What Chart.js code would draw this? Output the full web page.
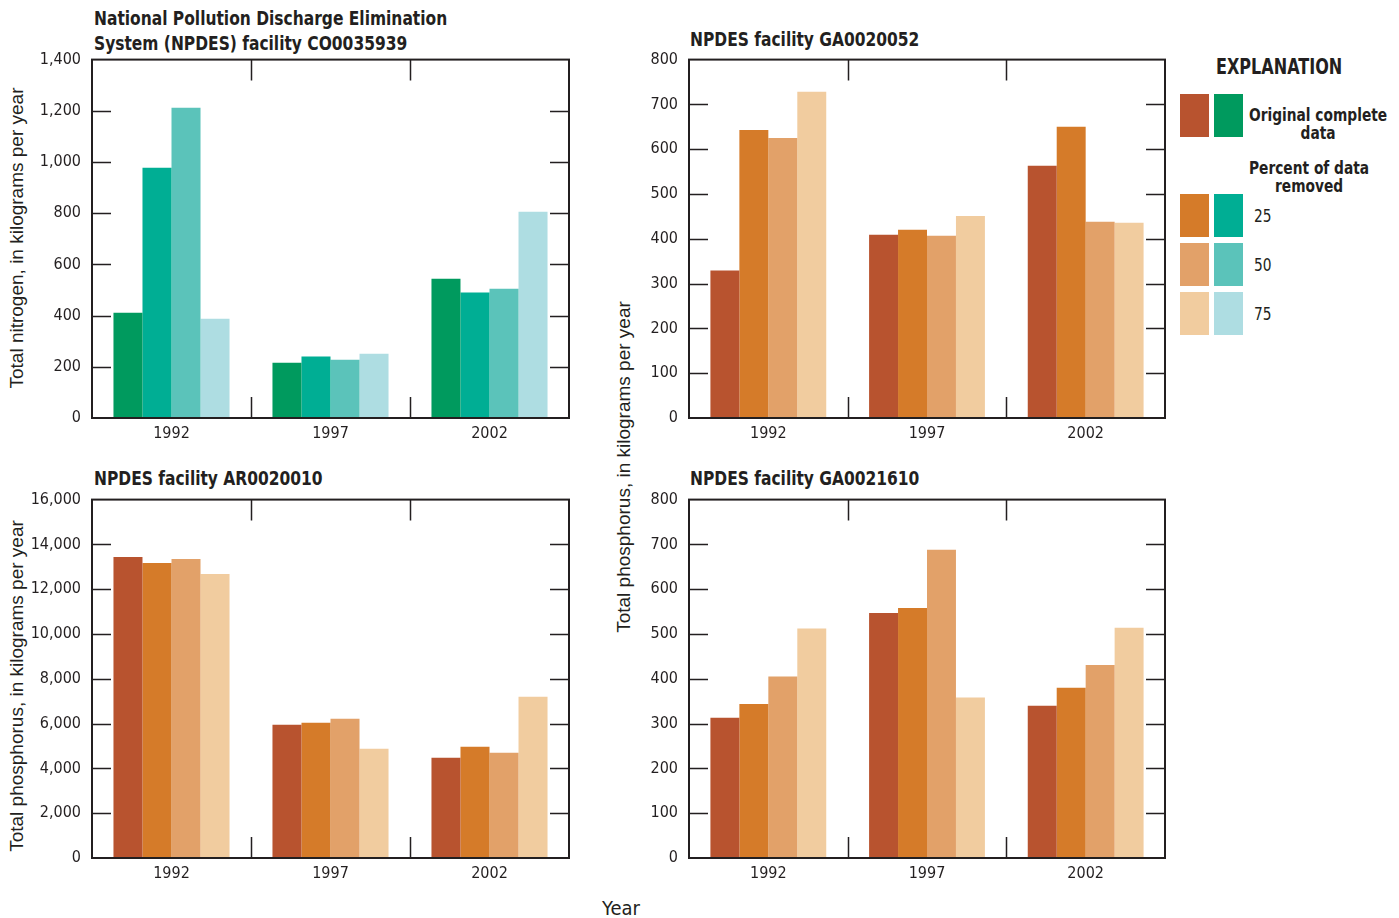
<!DOCTYPE html>
<html>
<head>
<meta charset="utf-8">
<script src="https://cdn.jsdelivr.net/npm/chart.js@4/dist/chart.umd.min.js"></script>
<style>
  body { margin: 0; background: #fff; width: 1399px; height: 918px; position: relative; overflow: hidden;
         font-family: "DejaVu Sans Condensed", "Liberation Sans", sans-serif; color: #231f20; }
  canvas { position: absolute; }
  .title { position: absolute; font-weight: bold; font-size: 20px; line-height: 25px; white-space: nowrap;
           transform: scaleX(0.86); transform-origin: left top; }
  .ytitle { position: absolute; width: 420px; text-align: center; font-family: "Liberation Sans", Arial, sans-serif;
            font-size: 19px; line-height: 20px; transform: rotate(-90deg); white-space: nowrap; }
  .sw { position: absolute; width: 29px; height: 43px; }
  .lg { position: absolute; font-weight: bold; font-size: 18px; line-height: 18px; white-space: nowrap;
        transform: scaleX(0.85); transform-origin: left top; }
</style>
</head>
<body>
<div class="title" style="left:94px; top:6px;">National Pollution Discharge Elimination<br>System (NPDES) facility CO0035939</div>
<div class="title" style="left:690px; top:27px;">NPDES facility GA0020052</div>
<div class="title" style="left:94px; top:466px;">NPDES facility AR0020010</div>
<div class="title" style="left:690px; top:466px;">NPDES facility GA0021610</div>

<div class="ytitle" style="left:-193px; top:228px;">Total nitrogen, in kilograms per year</div>
<div class="ytitle" style="left:-193px; top:676px;">Total phosphorus, in kilograms per year</div>
<div class="ytitle" style="left:414px; top:457px;">Total phosphorus, in kilograms per year</div>
<div style="position:absolute; left:571px; width:100px; text-align:center; top:896px; font-size:20px;">Year</div>

<canvas id="c1" width="577" height="401" style="left:2px; top:47px;"></canvas>
<canvas id="c2" width="556" height="401" style="left:619px; top:47px;"></canvas>
<canvas id="c3" width="577" height="401" style="left:2px; top:487px;"></canvas>
<canvas id="c4" width="556" height="401" style="left:619px; top:487px;"></canvas>

<div id="legend"></div>

<script>
// categories and series
const years = ['1992', '1997', '2002'];
const seriesNames = ['Original complete data', '25 percent removed', '50 percent removed', '75 percent removed'];

// NPDES CO0035939, total nitrogen (kg/yr)
const coOriginal = [411, 216, 544];
const co25 = [978, 240, 490];
const co50 = [1212, 228, 505];
const co75 = [388, 251, 806];

// NPDES GA0020052, total phosphorus
const ga52Original = [329, 409, 563];
const ga52_25 = [643, 420, 650];
const ga52_50 = [625, 407, 438];
const ga52_75 = [728, 451, 436];

// NPDES AR0020010, total phosphorus
const arOriginal = [13440, 5950, 4480];
const ar25 = [13170, 6040, 4970];
const ar50 = [13350, 6220, 4700];
const ar75 = [12680, 4880, 7200];

// NPDES GA0021610, total phosphorus
const ga1610Original = [313, 547, 340];
const ga1610_25 = [344, 558, 380];
const ga1610_50 = [405, 688, 431];
const ga1610_75 = [512, 358, 514];

const greens = ['#009a5e', '#00ae94', '#5bc3ba', '#aedde2'];
const browns = ['#b8532f', '#d57b29', '#e2a169', '#f1cc9f'];
const ink = '#231f20';
const tickFont = { family: "'DejaVu Sans Condensed', sans-serif", size: 16 };

// box around the plot with inward ticks
const framePlugin = {
    id: 'frame',
    afterDatasetsDraw(chart) {
        const { ctx, chartArea: a, scales: { x, y } } = chart;
        ctx.save();
        ctx.strokeStyle = ink;
        ctx.lineWidth = 1.5;
        y.ticks.forEach(t => {
            if (t.value <= y.min || t.value >= y.max) return;
            const py = Math.round(y.getPixelForValue(t.value)) + 0.5;
            ctx.beginPath();
            ctx.moveTo(a.left, py); ctx.lineTo(a.left + 19, py);
            ctx.moveTo(a.right - 19, py); ctx.lineTo(a.right, py);
            ctx.stroke();
        });
        for (let i = 1; i < x.ticks.length; i++) {
            const px = Math.round((x.getPixelForValue(i - 1) + x.getPixelForValue(i)) / 2) + 0.5;
            ctx.beginPath();
            ctx.moveTo(px, a.top); ctx.lineTo(px, a.top + 21);
            ctx.moveTo(px, a.bottom - 21); ctx.lineTo(px, a.bottom);
            ctx.stroke();
        }
        ctx.lineWidth = 2;
        ctx.strokeRect(a.left, a.top, a.right - a.left, a.bottom - a.top);
        ctx.restore();
    }
};

function makeChart(id, series, colors, max, step, axisWidth) {
    new Chart(document.getElementById(id), {
        type: 'bar',
        data: {
            labels: years,
            datasets: series.map((d, i) => ({
                label: seriesNames[i],
                data: d,
                backgroundColor: colors[i],
                borderWidth: 0,
                categoryPercentage: 0.73,
                barPercentage: 1.0
            }))
        },
        options: {
            responsive: false,
            animation: false,
            events: [],
            layout: { padding: { top: 12, right: 10, left: 0, bottom: 0 } },
            plugins: { legend: { display: false }, tooltip: { enabled: false } },
            scales: {
                x: {
                    grid: { display: false },
                    border: { display: false },
                    ticks: { color: ink, font: tickFont, padding: -2 },
                    afterFit(scale) { scale.height = 30; }
                },
                y: {
                    min: 0,
                    max: max,
                    grid: { display: false },
                    border: { display: false },
                    ticks: {
                        stepSize: step,
                        color: ink,
                        font: tickFont,
                        padding: 3,
                        callback: v => v.toLocaleString('en-US')
                    },
                    afterFit(scale) { scale.width = axisWidth; }
                }
            }
        },
        plugins: [framePlugin]
    });
}

makeChart('c1', [coOriginal, co25, co50, co75], greens, 1400, 200, 90);
makeChart('c2', [ga52Original, ga52_25, ga52_50, ga52_75], browns, 800, 100, 70);
makeChart('c3', [arOriginal, ar25, ar50, ar75], browns, 16000, 2000, 90);
makeChart('c4', [ga1610Original, ga1610_25, ga1610_50, ga1610_75], browns, 800, 100, 70);

// explanation box
const legend = document.getElementById('legend');
const rowsTop = [94, 194, 243, 292];
let html = '<div class="lg" style="left:1216px; top:56px; font-size:21px; line-height:22px;">EXPLANATION</div>';
rowsTop.forEach((t, i) => {
    html += '<div class="sw" style="left:1180px; top:' + t + 'px; background:' + browns[i] + ';"></div>';
    html += '<div class="sw" style="left:1214px; top:' + t + 'px; background:' + greens[i] + ';"></div>';
});
html += '<div class="lg" style="left:1249px; top:106px; text-align:center;">Original complete<br>data</div>';
html += '<div class="lg" style="left:1249px; top:159px; text-align:center;">Percent of data<br>removed</div>';
['25', '50', '75'].forEach((s, i) => {
    html += '<div class="lg" style="left:1254px; top:' + (rowsTop[i + 1] + 13) + 'px; font-weight:normal;">' + s + '</div>';
});
legend.innerHTML = html;
</script>
</body>
</html>
